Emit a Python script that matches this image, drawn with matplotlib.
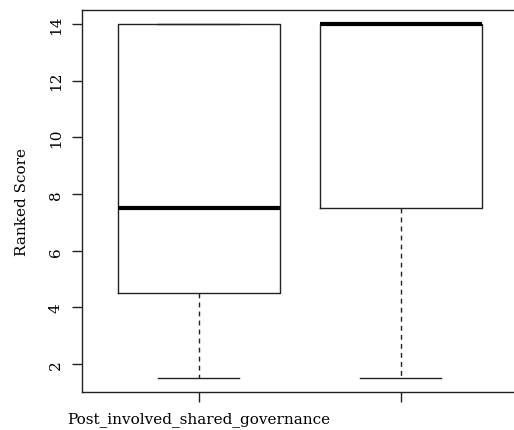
import matplotlib
matplotlib.use("Agg")
import matplotlib.pyplot as plt

categories = ["Post_involved_shared_governance", ""]
whisker_low = [1.5, 1.5]
q1 = [4.5, 7.5]
median = [7.5, 14.0]
q3 = [14.0, 14.0]
whisker_high = [14.0, 14.0]
y_ticks = [2, 4, 6, 8, 10, 12, 14]

plt.rcParams['font.family'] = ['DejaVu Serif']

fig = plt.figure(figsize=(5.14, 4.31), dpi=100)
ax = fig.add_axes([81.5/514, 37.7/431, 436.5/514, 382.5/431])

stats = []
for i, c in enumerate(categories):
    stats.append(dict(label=c, whislo=whisker_low[i], q1=q1[i], med=median[i],
                      q3=q3[i], whishi=whisker_high[i], fliers=[]))

line_col = '#222222'
positions = list(range(1, len(categories) + 1))
ax.bxp(stats, positions=positions, widths=0.8, showfliers=False,
       boxprops=dict(color=line_col, linewidth=1.0),
       medianprops=dict(color='black', linewidth=3.0, solid_capstyle='butt'),
       whiskerprops=dict(color=line_col, linewidth=1.0, linestyle=(0, (3.5, 3))),
       capprops=dict(color=line_col, linewidth=1.0),
       capwidths=0.4)

ax.set_xlim(0.42, 2.58)
ax.set_ylim(1.0, 14.5)
ax.set_yticks(y_ticks)
ax.set_yticklabels([str(t) for t in y_ticks], rotation=90, va='center')
ax.set_xticks(positions)
ax.set_xticklabels(categories)
ax.tick_params(axis='both', length=7, width=1, color=line_col, labelsize=11, pad=6.5)
for s in ax.spines.values():
    s.set_linewidth(1.0)
    s.set_color(line_col)
ax.set_ylabel("Ranked Score", fontsize=11, labelpad=14)

fig.savefig("out.png", dpi=100)
